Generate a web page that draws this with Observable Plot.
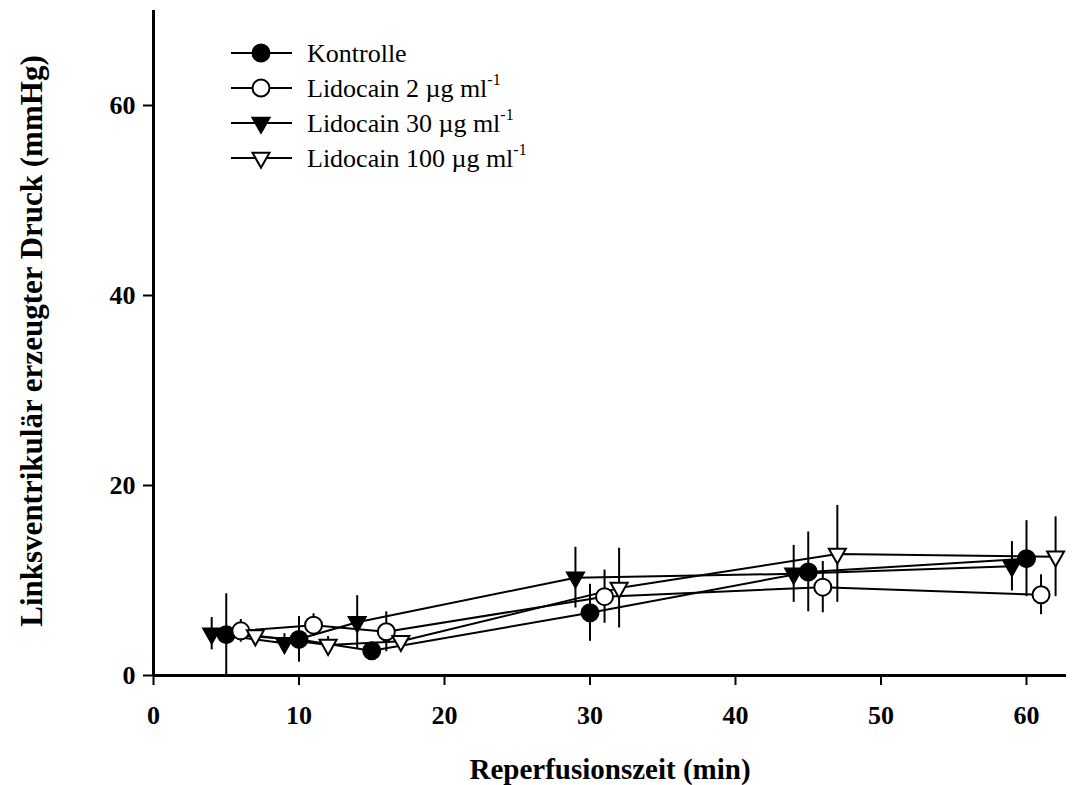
<!DOCTYPE html>
<html>
<head>
<meta charset="utf-8">
<script src="https://cdn.jsdelivr.net/npm/d3@7"></script>
<script src="https://cdn.jsdelivr.net/npm/@observablehq/plot@0.6"></script>
<style>
  html, body { margin: 0; padding: 0; background: #fff; }
  #chart svg { display: block; }
</style>
</head>
<body>
<div id="chart"></div>
<script>
// Reperfusion time (min) and left-ventricular developed pressure (mmHg), mean ± SEM
const kontrolleTime = [5, 10, 15, 30, 45, 60];
const kontrolleMean = [4.3, 3.8, 2.6, 6.6, 10.9, 12.3];
const kontrolleErr  = [4.3, 2.4, 0.6, 3.0, 4.2, 4.0];

const lido2Time = [6, 11, 16, 31, 46, 61];
const lido2Mean = [4.7, 5.3, 4.6, 8.3, 9.3, 8.5];
const lido2Err  = [1.2, 1.2, 2.1, 2.8, 2.7, 2.1];

const lido30Time = [4, 9, 14, 29, 44, 59];
const lido30Mean = [4.4, 3.4, 5.6, 10.3, 10.7, 11.5];
const lido30Err  = [1.7, 1.0, 2.8, 3.2, 3.0, 2.6];

const lido100Time = [7, 12, 17, 32, 47, 62];
const lido100Mean = [4.2, 3.2, 3.6, 9.2, 12.8, 12.5];
const lido100Err  = [0.5, 0.9, 0.5, 4.2, 5.1, 4.2];

const seriesNames = ["Kontrolle", "Lidocain 2 µg ml", "Lidocain 30 µg ml", "Lidocain 100 µg ml"];
const seriesSup = ["", "-1", "-1", "-1"];

const xTicks = [0, 10, 20, 30, 40, 50, 60];
const yTicks = [0, 20, 40, 60];

const xLabel = "Reperfusionszeit (min)";
const yLabel = "Linksventrikulär erzeugter Druck (mmHg)";

// Downward-pointing triangle marker (size = π r², as passed by Plot.dot)
const triangleDown = {
  draw(ctx, size) {
    const r = Math.sqrt(size / Math.PI);
    ctx.moveTo(-r, -0.62 * r);
    ctx.lineTo(r, -0.62 * r);
    ctx.lineTo(0, 1.15 * r);
    ctx.closePath();
  }
};

const styles = [
  {symbol: "circle", fill: "black"},
  {symbol: "circle", fill: "white"},
  {symbol: triangleDown, fill: "black"},
  {symbol: triangleDown, fill: "white"}
];

const groups = [
  [kontrolleTime, kontrolleMean, kontrolleErr],
  [lido2Time, lido2Mean, lido2Err],
  [lido30Time, lido30Mean, lido30Err],
  [lido100Time, lido100Mean, lido100Err]
];

const rows = groups.flatMap(([t, m, e], k) =>
  t.map((tt, i) => ({series: seriesNames[k], t: tt, v: m[i], e: e[i], k}))
);

const serif = "'Liberation Serif', 'Times New Roman', serif";
const R = 8.5;

const chart = Plot.plot({
  width: 1088,
  height: 785,
  marginLeft: 153,
  marginRight: 22,
  marginTop: 10,
  marginBottom: 110,
  x: {domain: [0, 62.75]},
  y: {domain: [0, 70]},
  style: {fontFamily: serif, background: "white", color: "black"},
  marks: [
    Plot.axisX({ticks: xTicks, tickSize: 10, tickPadding: 20, tickFormat: d => d,
      fontSize: 26, fontWeight: "bold", strokeWidth: 2, label: null}),
    Plot.axisY({ticks: yTicks, tickSize: 10, tickPadding: 8, tickFormat: d => d,
      fontSize: 26, fontWeight: "bold", strokeWidth: 2, label: null}),
    Plot.ruleY([0], {strokeWidth: 3}),
    Plot.ruleX([0], {strokeWidth: 3}),
    Plot.line(rows, {x: "t", y: "v", z: "series", stroke: "black", strokeWidth: 2}),
    Plot.ruleX(rows, {x: "t", y1: d => Math.max(0, d.v - d.e), y2: d => d.v + d.e, stroke: "black", strokeWidth: 2}),
    ...styles.map((s, k) =>
      Plot.dot(rows.filter(d => d.k === k), {
        x: "t", y: "v", r: R, symbol: s.symbol, fill: s.fill, stroke: "black", strokeWidth: 2
      })
    ),
    Plot.text([xLabel], {frameAnchor: "bottom", dy: 94, fontSize: 29, fontWeight: "bold",
      lineAnchor: "middle", textAnchor: "middle"}),
    Plot.text([yLabel], {frameAnchor: "left", dx: -121, dy: -2, rotate: -90, fontSize: 31, fontWeight: "bold",
      lineAnchor: "middle", textAnchor: "middle"})
  ]
});

// Legend inside the upper-left corner of the frame
const svg = d3.select(chart);
const legend = svg.append("g")
  .attr("font-family", serif).attr("font-size", 26).attr("text-anchor", "start");
seriesNames.forEach((name, k) => {
  const y = 53 + k * 35;
  const g = legend.append("g").attr("transform", `translate(0,${y})`);
  g.append("line").attr("x1", 231).attr("x2", 292).attr("stroke", "black").attr("stroke-width", 2);
  const sym = styles[k].symbol === "circle" ? d3.symbolCircle : styles[k].symbol;
  g.append("path")
    .attr("d", d3.symbol(sym, R * R * Math.PI)())
    .attr("transform", "translate(261,0)")
    .attr("fill", styles[k].fill).attr("stroke", "black").attr("stroke-width", 2);
  const t = g.append("text").attr("x", 307).attr("dy", "0.34em").text(name);
  if (seriesSup[k]) t.append("tspan").attr("font-size", 16).attr("dy", "-0.75em").text(seriesSup[k]);
});

document.getElementById("chart").appendChild(chart);
</script>
</body>
</html>
